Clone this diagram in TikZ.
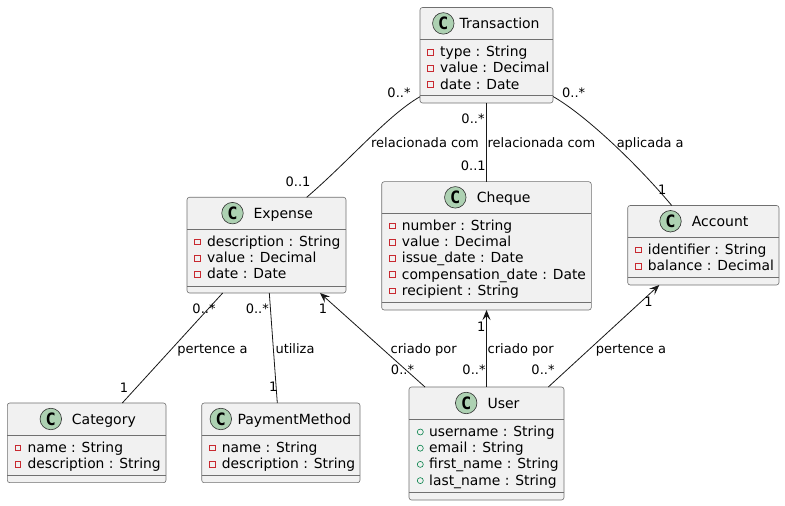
\documentclass[tikz,border=0pt]{standalone}
\usepackage{fontspec}
\setmainfont{DejaVu Sans}
\setmonofont{DejaVu Sans Mono}
\usetikzlibrary{calc,arrows.meta}
\definecolor{boxfill}{HTML}{F1F1F1}
\definecolor{boxline}{HTML}{707070}
\definecolor{circline}{HTML}{303030}
\definecolor{linecol}{HTML}{181818}
\definecolor{circfill}{HTML}{ADD1B2}
\definecolor{privred}{HTML}{C82930}
\definecolor{pubgreen}{HTML}{038048}
\tikzset{
  classbox/.style={draw=boxline, fill=boxfill, line width=0.6pt, rounded corners=2.5pt, inner sep=0pt, outer sep=0pt},
  sepline/.style={draw=boxline, line width=0.6pt},
  titletext/.style={font=\fontsize{14}{16}\selectfont, inner sep=0pt, anchor=base west},
  attrtext/.style={font=\fontsize{13.85}{16}\selectfont, inner sep=0pt, anchor=base west},
  cicon/.style={circle, draw=circline, fill=circfill, line width=0.6pt, minimum size=21.5pt, inner sep=0pt, font=\fontsize{17}{17}\ttfamily\bfseries},
  privicon/.style={draw=privred, line width=0.6pt},
  pubicon/.style={draw=pubgreen, line width=0.6pt},
  assoc/.style={draw=linecol, line width=0.8pt},
  navarrow/.style={assoc, -{Stealth[length=10pt,width=8pt,inset=4pt]}},
  mult/.style={font=\fontsize{13}{15}\selectfont, inner sep=0pt, anchor=base},
}
% box: id, xl, xr, ytop, yhdr, ysep, ybot (image coordinates, y down)
\newcommand\umlbox[7]{%
  \pgfmathsetmacro\bcx{(#2+#3)/2}%
  \pgfmathsetmacro\bcy{506-(#4+#7)/2}%
  \pgfmathsetmacro\bw{#3-#2}%
  \pgfmathsetmacro\bh{#7-#4}%
  \node[classbox, minimum width=\bw pt, minimum height=\bh pt] (#1) at (\bcx,\bcy) {};
  \draw[sepline] (#2,506-#5) -- (#3,506-#5);
  \draw[sepline] (#2,506-#6) -- (#3,506-#6);
}
% header: id, ytop, yhdr, circle x, title left x, title
\newcommand\umlhead[6]{%
  \pgfmathsetmacro\hy{506-(#2+#3)/2}%
  \node[cicon] (#1-c) at (#4,\hy) {C};
  \node[titletext] (#1-t) at (#5,\hy-5.3) {#6};
}
% attributes: id, xl, baseline y, text
\newcommand\privattr[4]{%
  \pgfmathsetmacro\ay{506-#3}%
  \draw[privicon] (#2+7.6,\ay+1.7) rectangle (#2+13.3,\ay+7.4);
  \node[attrtext] (#1) at (#2+20,\ay) {#4};
}
\newcommand\pubattr[4]{%
  \pgfmathsetmacro\ay{506-#3}%
  \draw[pubicon] (#2+11.3,\ay+4.5) circle (3pt);
  \node[attrtext] (#1) at (#2+20,\ay) {#4};
}
\begin{document}
\begin{tikzpicture}[x=1pt,y=1pt]
\useasboundingbox (0,0) rectangle (785,506);
\fill[white] (0,0) rectangle (785,506);

% Transaction
\umlbox{transaction}{420}{553}{7.5}{39.3}{95.7}{103}
\umlhead{transaction}{7.5}{39.3}{443.3}{459.3}{Transaction}
\privattr{tr-a1}{420}{56.8}{type : String}
\privattr{tr-a2}{420}{73.0}{value : Decimal}
\privattr{tr-a3}{420}{89.2}{date : Date}

% Expense
\umlbox{expense}{187}{346}{197.3}{229}{286}{293}
\umlhead{expense}{197.3}{229}{232.5}{253.3}{Expense}
\privattr{ex-a1}{187}{246.5}{description : String}
\privattr{ex-a2}{187}{262.7}{value : Decimal}
\privattr{ex-a3}{187}{278.9}{date : Date}

% Cheque
\umlbox{cheque}{381.7}{591.3}{181.7}{213}{302}{310}
\umlhead{cheque}{181.7}{213}{455.3}{476.7}{Cheque}
\privattr{ch-a1}{381.7}{230.5}{number : String}
\privattr{ch-a2}{381.7}{246.7}{value : Decimal}
\privattr{ch-a3}{381.7}{262.9}{issue\_date : Date}
\privattr{ch-a4}{381.7}{279.1}{compensation\_date : Date}
\privattr{ch-a5}{381.7}{295.3}{recipient : String}

% Account
\umlbox{account}{627.7}{779}{205.5}{237}{277}{285}
\umlhead{account}{205.5}{237}{670.5}{691.7}{Account}
\privattr{ac-a1}{627.7}{254.5}{identifier : String}
\privattr{ac-a2}{627.7}{270.7}{balance : Decimal}

% Category
\umlbox{category}{7.3}{166}{403}{435}{475.7}{482.7}
\umlhead{category}{403}{435}{50.8}{71.7}{Category}
\privattr{ca-a1}{7.3}{452.5}{name : String}
\privattr{ca-a2}{7.3}{468.7}{description : String}

% PaymentMethod
\umlbox{paymentmethod}{201.7}{360}{403}{435}{475.7}{482.7}
\umlhead{paymentmethod}{403}{435}{220.8}{237.3}{PaymentMethod}
\privattr{pm-a1}{201.7}{452.5}{name : String}
\privattr{pm-a2}{201.7}{468.7}{description : String}

% User
\umlbox{user}{409}{564}{387}{419}{492.3}{500}
\umlhead{user}{387}{419}{466.2}{487.3}{User}
\pubattr{us-a1}{409}{436.5}{username : String}
\pubattr{us-a2}{409}{452.7}{email : String}
\pubattr{us-a3}{409}{468.9}{first\_name : String}
\pubattr{us-a4}{409}{485.1}{last\_name : String}

% connectors
\draw[assoc] ($(transaction.south west)+(0,6.3)$) .. controls (388,391) and (350,346) .. ($(expense.north west)+(119.7,0)$);
\draw[assoc] (transaction.south) -- (cheque.north);
\draw[assoc] ($(transaction.south east)+(0,6.5)$) .. controls (585.3,391.2) and (638,341) .. ($(account.north west)+(44,0)$);
\draw[assoc] ($(expense.south west)+(35.7,0)$) -- ($(category.north west)+(115,0)$);
\draw[assoc] ($(expense.south west)+(82.3,0)$) -- ($(paymentmethod.north west)+(75.6,0)$);
\draw[navarrow] ($(user.north west)+(16,0)$) -- ($(expense.south west)+(133,0)$);
\draw[navarrow] (user.north) -- (cheque.south);
\draw[navarrow] ($(user.north west)+(139.3,0)$) -- ($(account.south west)+(31.6,0)$);

% labels and multiplicities
\node[mult] (l1) at (399,506-97.7) {0..*};
\node[mult] (l2) at (425,506-147.5) {relacionada com};
\node[mult] (l3) at (298,506-186.2) {0..1};
\node[mult] (l4) at (473,506-124) {0..*};
\node[mult] (l5) at (541.5,506-147.5) {relacionada com};
\node[mult] (l6) at (473.3,506-170.7) {0..1};
\node[mult] (l7) at (573.7,506-98) {0..*};
\node[mult] (l8) at (650.2,506-147.5) {aplicada a};
\node[mult] (l9) at (662.2,506-194.7) {1};
\node[mult] (l10) at (204,506-313.7) {0..*};
\node[mult] (l11) at (212.5,506-353.5) {pertence a};
\node[mult] (l12) at (124,506-392.5) {1};
\node[mult] (l13) at (257.3,506-313.7) {0..*};
\node[mult] (l14) at (295,506-353.5) {utiliza};
\node[mult] (l15) at (273.3,506-391.7) {1};
\node[mult] (l16) at (323,506-313.7) {1};
\node[mult] (l17) at (423.7,506-353.5) {criado por};
\node[mult] (l18) at (402.5,506-374.7) {0..*};
\node[mult] (l19) at (481.3,506-331.7) {1};
\node[mult] (l20) at (520.7,506-353.5) {criado por};
\node[mult] (l21) at (474,506-374.7) {0..*};
\node[mult] (l22) at (543,506-374.7) {0..*};
\node[mult] (l23) at (631,506-353.5) {pertence a};
\node[mult] (l24) at (648.5,506-306.3) {1};
\end{tikzpicture}
\end{document}
